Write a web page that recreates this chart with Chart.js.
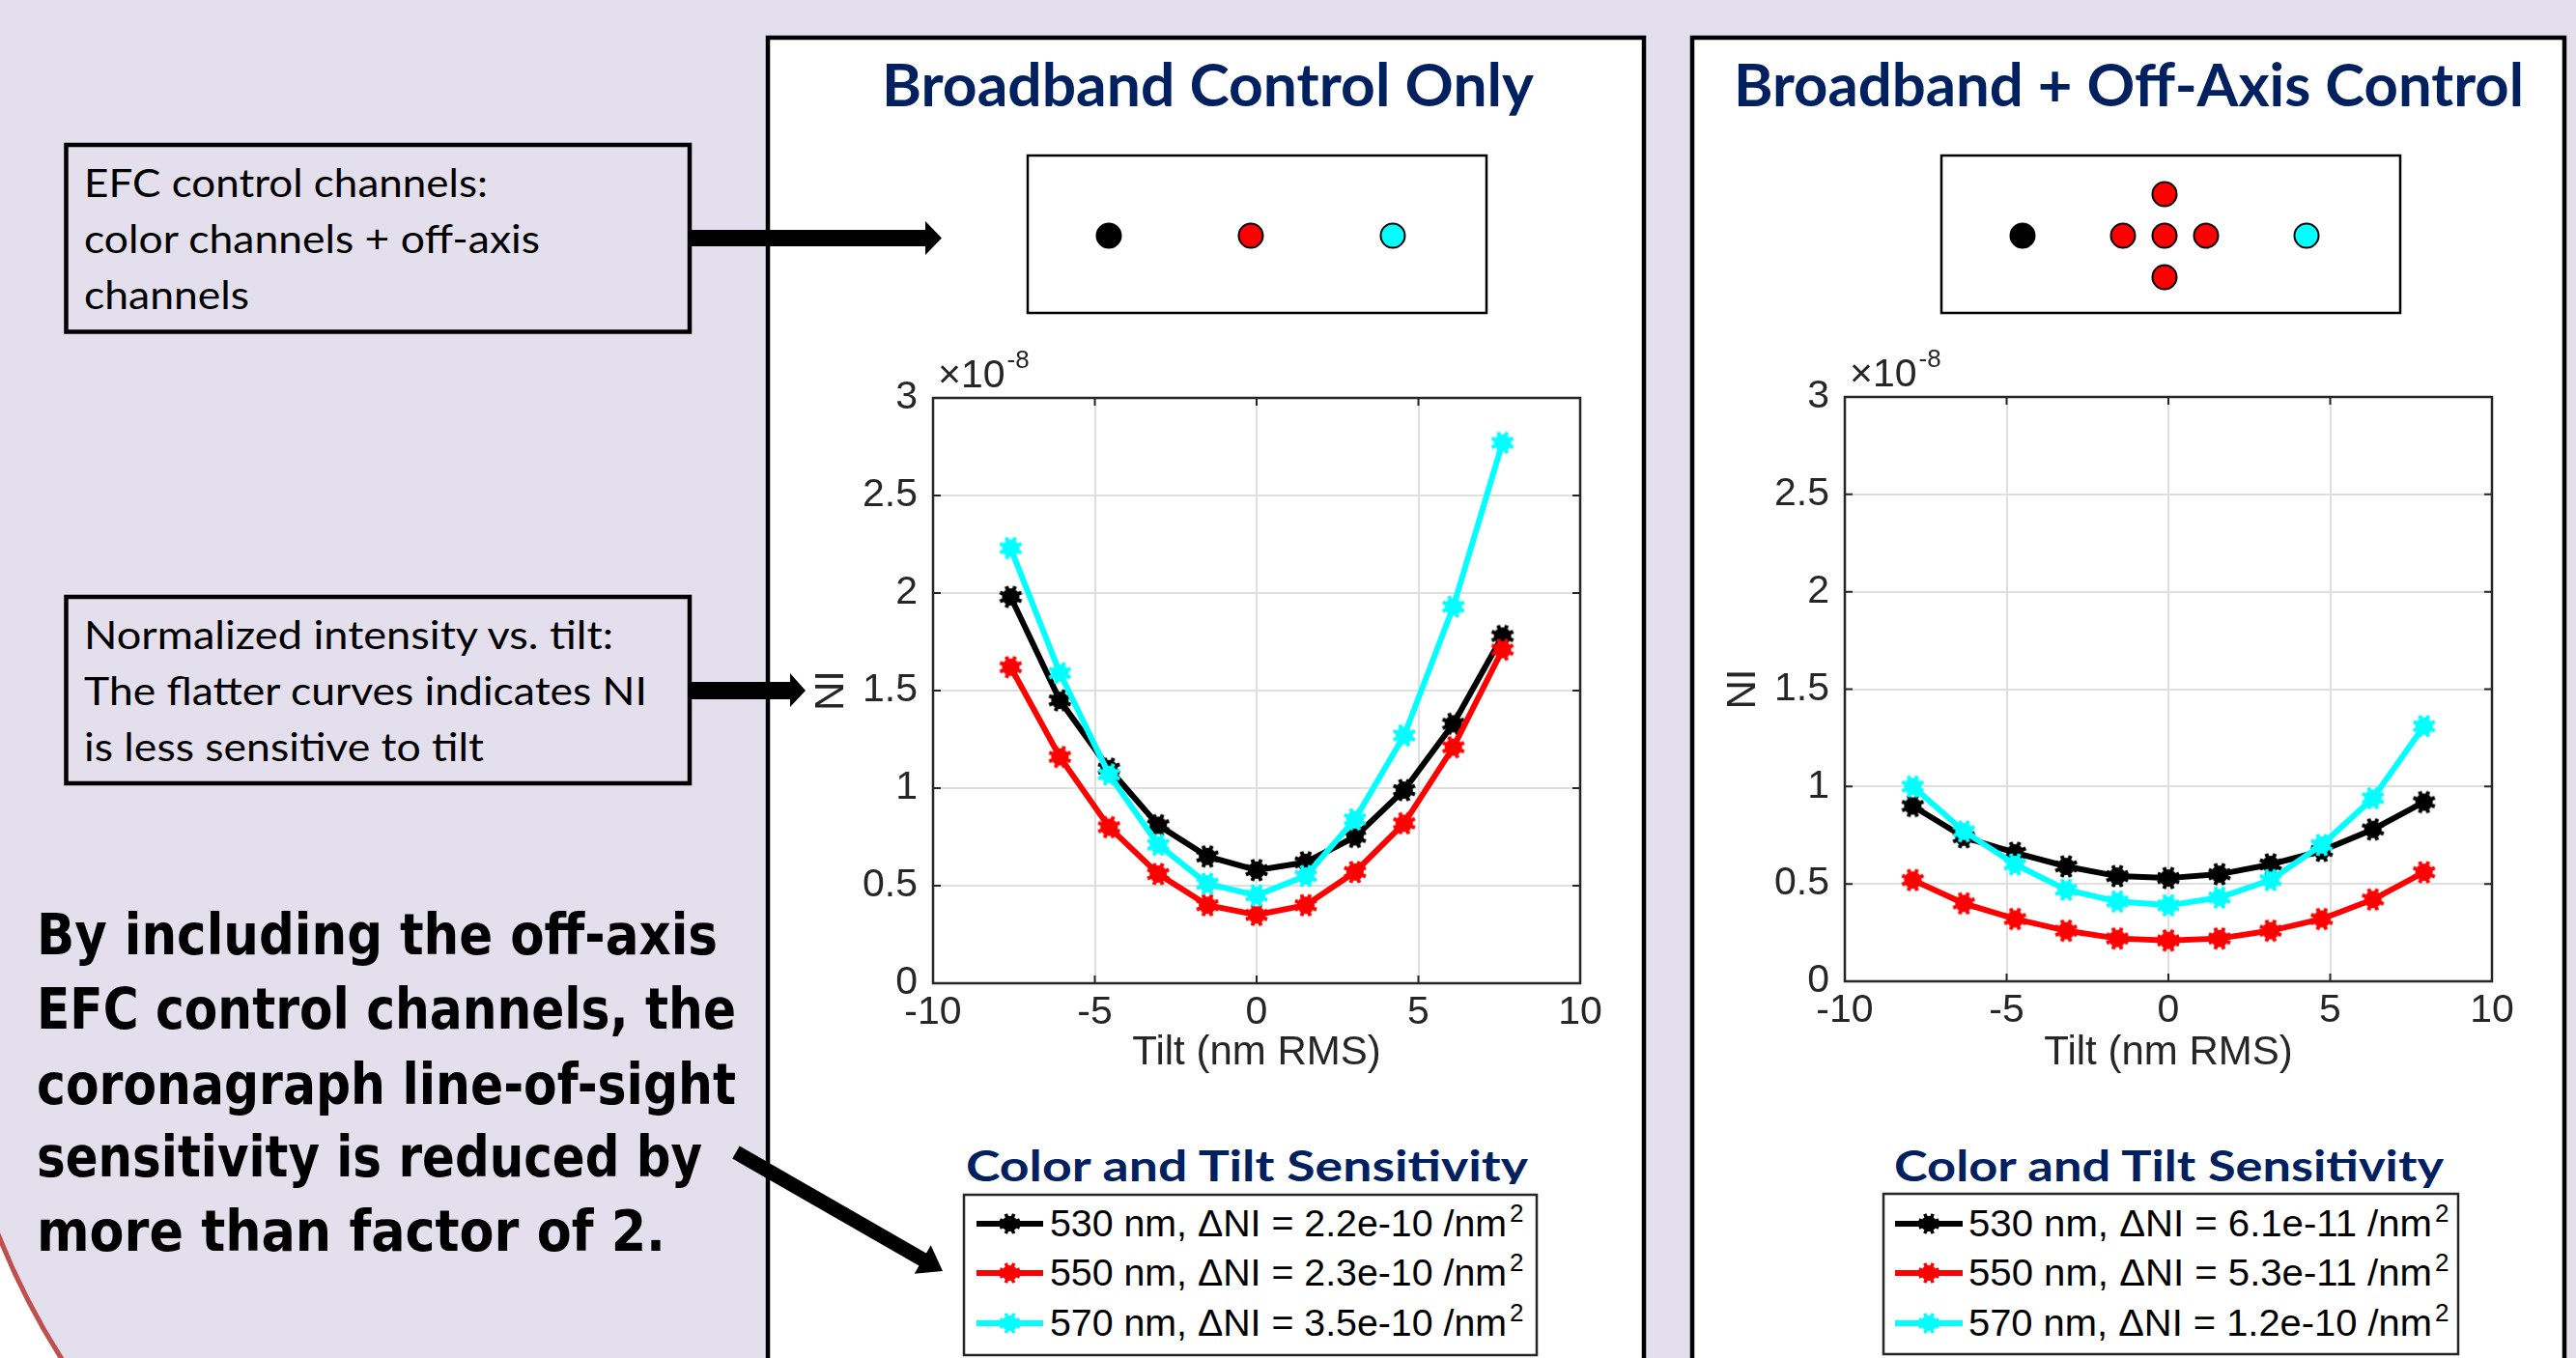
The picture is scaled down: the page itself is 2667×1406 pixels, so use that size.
<!DOCTYPE html>
<html>
<head>
<meta charset="utf-8">
<script src="https://cdn.jsdelivr.net/npm/chart.js@4.4.0/dist/chart.umd.min.js"></script>
<style>
html, body { margin: 0; padding: 0; }
body { width: 2667px; height: 1406px; overflow: hidden; background: #E4DFEC; position: relative; }
#deco { position: absolute; left: 0; top: 0; }
canvas { position: absolute; }
#cLeft { left: 820px; top: 340px; }
#cRight { left: 1770px; top: 340px; }
.cal { font-family: Lato, "Open Sans", sans-serif; }
.ttl { font-family: Lato, sans-serif; font-weight: bold; fill: #002060; }
.comic { font-family: "DejaVu Sans Condensed", "DejaVu Sans", sans-serif; font-weight: bold; font-size: 58px; }
.leg { font-family: "Liberation Sans", Arial, sans-serif; font-size: 39px; fill: #000; }
</style>
</head>
<body>
<svg id="deco" width="2667" height="1406" xmlns="http://www.w3.org/2000/svg">
  <defs>
    <clipPath id="corner"><rect x="0" y="1100" width="200" height="306"/></clipPath>
    <clipPath id="headClip"><rect x="990" y="1150" width="620" height="76"/></clipPath>
  </defs>
  <!-- white corner with red arc -->
  <g clip-path="url(#corner)">
    <rect x="0" y="1100" width="200" height="306" fill="#fff"/>
    <circle cx="700" cy="1000" r="755" fill="#E4DFEC" stroke="#C0504D" stroke-width="5"/>
  </g>

  <!-- panels -->
  <rect x="795" y="39" width="907" height="1420" fill="#fff" stroke="#000" stroke-width="4.5"/>
  <rect x="1752" y="39" width="903" height="1420" fill="#fff" stroke="#000" stroke-width="4.5"/>

  <text class="ttl" x="913" y="110" font-size="62" textLength="675" lengthAdjust="spacingAndGlyphs">Broadband Control Only</text>
  <text class="ttl" x="1795" y="110" font-size="62" textLength="818" lengthAdjust="spacingAndGlyphs">Broadband + Off-Axis Control</text>

  <!-- control channel diagrams -->
  <rect x="1064" y="161" width="475" height="163" fill="#fff" stroke="#000" stroke-width="2.5"/>
  <rect x="2010" y="161" width="475" height="163" fill="#fff" stroke="#000" stroke-width="2.5"/>
  <g stroke="#000" stroke-width="2">
    <circle cx="1148" cy="244" r="12.5" fill="#000"/>
    <circle cx="1295" cy="244" r="12.5" fill="#FF0000"/>
    <circle cx="1442" cy="244" r="12.5" fill="#00FFFF"/>
    <circle cx="2094" cy="244" r="12.5" fill="#000"/>
    <circle cx="2198" cy="244" r="12.5" fill="#FF0000"/>
    <circle cx="2241" cy="244" r="12.5" fill="#FF0000"/>
    <circle cx="2284" cy="244" r="12.5" fill="#FF0000"/>
    <circle cx="2241" cy="201" r="12.5" fill="#FF0000"/>
    <circle cx="2241" cy="287" r="12.5" fill="#FF0000"/>
    <circle cx="2388" cy="244" r="12.5" fill="#00FFFF"/>
  </g>

  <!-- text boxes -->
  <rect x="68.5" y="150" width="645.5" height="193.5" fill="none" stroke="#000" stroke-width="4.5"/>
  <text class="cal" x="87" y="204" font-size="41" textLength="418" lengthAdjust="spacingAndGlyphs">EFC control channels:</text>
  <text class="cal" x="87" y="262" font-size="41" textLength="472" lengthAdjust="spacingAndGlyphs">color channels + off-axis</text>
  <text class="cal" x="87" y="320" font-size="41" textLength="171" lengthAdjust="spacingAndGlyphs">channels</text>

  <rect x="68.5" y="618" width="645.5" height="193" fill="none" stroke="#000" stroke-width="4.5"/>
  <text class="cal" x="87" y="672" font-size="41" textLength="548" lengthAdjust="spacingAndGlyphs">Normalized intensity vs. tilt:</text>
  <text class="cal" x="87" y="730" font-size="41" textLength="583" lengthAdjust="spacingAndGlyphs">The flatter curves indicates NI</text>
  <text class="cal" x="87" y="788" font-size="41" textLength="414" lengthAdjust="spacingAndGlyphs">is less sensitive to tilt</text>

  <!-- arrows -->
  <rect x="716" y="238" width="244" height="17" fill="#000"/>
  <polygon points="958,229 975,246.5 958,264" fill="#000"/>
  <rect x="716" y="706" width="104" height="18" fill="#000"/>
  <polygon points="818,697 834,715 818,732" fill="#000"/>
  <line x1="762" y1="1193" x2="957" y2="1305" stroke="#000" stroke-width="15"/>
  <polygon points="946.7,1318.7 976,1316 963.7,1289.3" fill="#000"/>

  <!-- conclusion text -->
  <text class="comic" x="38" y="988" textLength="705" lengthAdjust="spacingAndGlyphs">By including the off-axis</text>
  <text class="comic" x="38" y="1065" textLength="724" lengthAdjust="spacingAndGlyphs">EFC control channels, the</text>
  <text class="comic" x="38" y="1143" textLength="724" lengthAdjust="spacingAndGlyphs">coronagraph line-of-sight</text>
  <text class="comic" x="38" y="1218" textLength="689" lengthAdjust="spacingAndGlyphs">sensitivity is reduced by</text>
  <text class="comic" x="38" y="1295" textLength="651" lengthAdjust="spacingAndGlyphs">more than factor of 2.</text>

  <!-- legend headings and boxes -->
  <text class="ttl" x="1000" y="1223" font-size="43" textLength="582" lengthAdjust="spacingAndGlyphs" clip-path="url(#headClip)">Color and Tilt Sensitivity</text>
  <text class="ttl" x="1961" y="1223" font-size="43" textLength="569" lengthAdjust="spacingAndGlyphs">Color and Tilt Sensitivity</text>
  <rect x="998" y="1237" width="593" height="166" fill="#fff" stroke="#262626" stroke-width="2.5"/>
  <rect x="1950" y="1236" width="595" height="166" fill="#fff" stroke="#262626" stroke-width="2.5"/>
  <g id="legends"></g>
</svg>
<canvas id="cLeft" width="860" height="790"></canvas>
<canvas id="cRight" width="850" height="790"></canvas>
<script>
// ---- data (NI in units of 1e-8) ----
const tiltLeft  = [-7.6, -6.08, -4.56, -3.04, -1.52, 0, 1.52, 3.04, 4.56, 6.08, 7.6];
const tiltRight = [-7.9, -6.32, -4.74, -3.16, -1.58, 0, 1.58, 3.16, 4.74, 6.32, 7.9];

const ni530Left = [1.98, 1.45, 1.10, 0.81, 0.65, 0.58, 0.62, 0.75, 0.99, 1.33, 1.78];
const ni550Left = [1.62, 1.16, 0.80, 0.56, 0.40, 0.35, 0.40, 0.57, 0.82, 1.21, 1.71];
const ni570Left = [2.23, 1.59, 1.07, 0.71, 0.51, 0.45, 0.55, 0.84, 1.27, 1.93, 2.77];

const ni530Right = [0.90, 0.74, 0.66, 0.59, 0.54, 0.53, 0.55, 0.60, 0.67, 0.78, 0.92];
const ni550Right = [0.52, 0.40, 0.32, 0.26, 0.22, 0.21, 0.22, 0.26, 0.32, 0.42, 0.56];
const ni570Right = [1.00, 0.77, 0.60, 0.47, 0.41, 0.39, 0.43, 0.52, 0.70, 0.94, 1.31];

const wavelengths = ['530 nm', '550 nm', '570 nm'];
const lineColors = ['#000000', '#FF0000', '#00FFFF'];
const sensLeft  = ['2.2e-10', '2.3e-10', '3.5e-10'];
const sensRight = ['6.1e-11', '5.3e-11', '1.2e-10'];

const xTicks = [-10, -5, 0, 5, 10];
const yTicks = [0, 0.5, 1, 1.5, 2, 2.5, 3];

const FONT = '"Liberation Sans", Arial, sans-serif';
const AXIS = '#262626';

// matlab-ish '*' marker with thick strokes -> spiky blob
function starMarker(color) {
  const c = document.createElement('canvas');
  c.width = 28; c.height = 28;
  const g = c.getContext('2d');
  g.translate(14, 14);
  g.fillStyle = color; g.strokeStyle = color;
  g.lineWidth = 4; g.lineCap = 'butt';
  g.beginPath(); g.arc(0, 0, 9, 0, Math.PI * 2); g.fill();
  for (let k = 0; k < 8; k++) {
    const a = k * Math.PI / 4 + Math.PI / 8;
    g.beginPath(); g.moveTo(0, 0); g.lineTo(12 * Math.cos(a), 12 * Math.sin(a)); g.stroke();
  }
  return c;
}
const markers = lineColors.map(starMarker);

// box, inward ticks and the x10^-8 exponent
const matlabBox = {
  id: 'matlabBox',
  afterDatasetsDraw(chart) {
    const {ctx, chartArea: a, scales} = chart;
    ctx.save();
    ctx.strokeStyle = AXIS;
    ctx.lineWidth = 2.5;
    ctx.strokeRect(a.left, a.top, a.right - a.left, a.bottom - a.top);
    ctx.lineWidth = 2;
    const tl = 8;
    ctx.beginPath();
    scales.x.ticks.forEach(t => {
      const x = scales.x.getPixelForValue(t.value);
      ctx.moveTo(x, a.bottom); ctx.lineTo(x, a.bottom - tl);
      ctx.moveTo(x, a.top); ctx.lineTo(x, a.top + tl);
    });
    scales.y.ticks.forEach(t => {
      const y = scales.y.getPixelForValue(t.value);
      ctx.moveTo(a.left, y); ctx.lineTo(a.left + tl, y);
      ctx.moveTo(a.right, y); ctx.lineTo(a.right - tl, y);
    });
    ctx.stroke();
    ctx.fillStyle = AXIS;
    ctx.textAlign = 'left';
    ctx.textBaseline = 'alphabetic';
    ctx.font = '41px ' + FONT;
    ctx.fillText('\u00D710', a.left + 5, a.top - 11);
    const w = ctx.measureText('\u00D710').width;
    ctx.font = '26px ' + FONT;
    ctx.fillText('-8', a.left + 7 + w, a.top - 31);
    ctx.restore();
  }
};

function makeChart(id, tilt, series, yWidth, xHeight, pad, yTitlePad) {
  return new Chart(document.getElementById(id), {
    type: 'line',
    data: {
      datasets: series.map((vals, i) => ({
        label: wavelengths[i],
        data: tilt.map((t, j) => ({x: t, y: vals[j]})),
        borderColor: lineColors[i],
        backgroundColor: lineColors[i],
        borderWidth: 6,
        pointStyle: markers[i],
        pointRadius: 11,
        tension: 0,
        order: 3 - i
      }))
    },
    options: {
      responsive: false,
      animation: false,
      events: [],
      layout: {padding: pad},
      plugins: {legend: {display: false}, tooltip: {enabled: false}},
      scales: {
        x: {
          type: 'linear', min: -10, max: 10,
          afterBuildTicks: s => { s.ticks = xTicks.map(v => ({value: v})); },
          afterFit: s => { s.height = xHeight; },
          grid: {color: '#dfdfdf', lineWidth: 2, drawTicks: false},
          border: {display: false},
          ticks: {font: {size: 41, family: FONT}, color: AXIS, padding: 6, maxRotation: 0,
                  callback: v => String(v)},
          title: {display: true, text: 'Tilt (nm RMS)', font: {size: 42, family: FONT}, color: AXIS, padding: {top: 0, bottom: 14}}
        },
        y: {
          type: 'linear', min: 0, max: 3,
          afterBuildTicks: s => { s.ticks = yTicks.map(v => ({value: v})); },
          afterFit: s => { s.width = yWidth; },
          grid: {color: '#dfdfdf', lineWidth: 2, drawTicks: false},
          border: {display: false},
          ticks: {font: {size: 41, family: FONT}, color: AXIS, padding: 16,
                  callback: v => String(v)},
          title: {display: true, text: 'NI', font: {size: 42, family: FONT}, color: AXIS, padding: {top: yTitlePad, bottom: 0}}
        }
      }
    },
    plugins: [matlabBox]
  });
}

makeChart('cLeft', tiltLeft, [ni530Left, ni550Left, ni570Left], 146, 112, {top: 72, right: 44, left: 0, bottom: 0}, 16);
makeChart('cRight', tiltRight, [ni530Right, ni550Right, ni570Right], 140, 114, {top: 71, right: 40, left: 0, bottom: 0}, 10);

// ---- legends (svg) ----
function svgStar(cx, cy, color) {
  let s = `<circle cx="${cx}" cy="${cy}" r="8" fill="${color}"/>`;
  for (let k = 0; k < 8; k++) {
    const a = k * Math.PI / 4 + Math.PI / 8;
    s += `<line x1="${cx}" y1="${cy}" x2="${(cx + 11 * Math.cos(a)).toFixed(1)}" y2="${(cy + 11 * Math.sin(a)).toFixed(1)}" stroke="${color}" stroke-width="3.5"/>`;
  }
  return s;
}
function legend(x1, x2, tx, textW, sens) {
  const rowY = [1267, 1318, 1370];
  let s = '';
  sens.forEach((v, i) => {
    const y = rowY[i];
    s += `<line x1="${x1}" y1="${y}" x2="${x2}" y2="${y}" stroke="${lineColors[i]}" stroke-width="6"/>`;
    s += svgStar((x1 + x2) / 2, y, lineColors[i]);
    s += `<text class="leg" x="${tx}" y="${y + 13}"><tspan textLength="${textW}" lengthAdjust="spacingAndGlyphs">${wavelengths[i]}, \u0394NI = ${v} /nm</tspan><tspan font-size="26" dx="3" dy="-15">2</tspan></text>`;
  });
  return s;
}
document.getElementById('legends').innerHTML =
  legend(1011, 1080, 1087, 473, sensLeft) + legend(1962, 2032, 2038, 480, sensRight);
</script>
</body>
</html>
